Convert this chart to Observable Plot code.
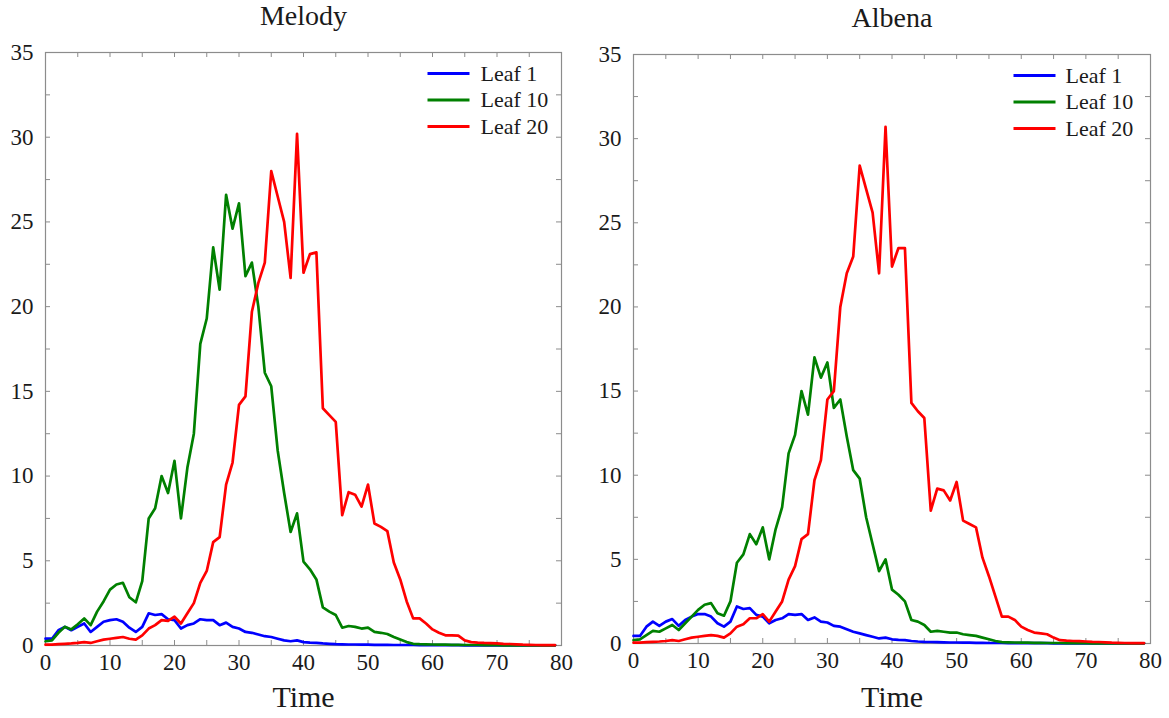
<!DOCTYPE html>
<html><head><meta charset="utf-8">
<script src="https://cdn.jsdelivr.net/npm/d3@7"></script>
<script src="https://cdn.jsdelivr.net/npm/@observablehq/plot@0.6"></script>
<style>
body{margin:0;background:#fff}
#wrap{display:flex;width:1169px;height:718px;overflow:hidden}
</style>
</head><body><div id="wrap"></div>
<script>
const time = [0,1,2,3,4,5,6,7,8,9,10,11,12,13,14,15,16,17,18,19,20,21,22,23,24,25,26,27,28,29,30,31,32,33,34,35,36,37,38,39,40,41,42,43,44,45,46,47,48,49,50,51,52,53,54,55,56,57,58,59,60,61,62,63,64,65,66,67,68,69,70,71,72,73,74,75,76,77,78,79];
const seriesNames = ["Leaf 1", "Leaf 10", "Leaf 20"];
const seriesColors = ["#0000ff", "#008000", "#ff0000"];
const xTicks = [0,10,20,30,40,50,60,70,80];
const yTicks = [0,5,10,15,20,25,30,35];
const xMinor = [5,10,15,20,25,30,35,40,45,50,55,60,65,70,75];
const yMinor = [2.5,5,7.5,10,12.5,15,17.5,20,22.5,25,27.5,30,32.5];

// Melody
const melodyLeaf1 = [0.4,0.4,0.9,1.1,0.9,1.1,1.3,0.8,1.1,1.4,1.5,1.55,1.4,1.05,0.8,1.1,1.9,1.8,1.85,1.55,1.5,1.0,1.2,1.3,1.55,1.5,1.5,1.2,1.35,1.1,1.0,0.8,0.75,0.65,0.55,0.5,0.4,0.3,0.25,0.3,0.2,0.17,0.15,0.12,0.1,0.08,0.07,0.06,0.06,0.05,0.05,0.04,0.04,0.04,0.03,0.03,0.03,0.03,0.02,0.02,0.02,0.02,0.02,0.02,0.02,0.01,0.01,0.01,0.01,0.01,0.01,0.01,0.01,0.01,0.01,0.01,0.01,0.01,0.01,0.01];
const melodyLeaf10 = [0.25,0.3,0.75,1.1,0.95,1.25,1.6,1.2,2.0,2.6,3.3,3.6,3.7,2.85,2.55,3.8,7.5,8.1,10.0,9.0,10.9,7.5,10.5,12.5,17.8,19.3,23.5,21.0,26.6,24.6,26.1,21.8,22.6,20.0,16.1,15.3,11.5,9.0,6.7,7.8,4.95,4.5,3.9,2.25,2.0,1.8,1.05,1.15,1.1,1.0,1.05,0.8,0.75,0.68,0.5,0.35,0.2,0.1,0.08,0.07,0.06,0.05,0.05,0.04,0.04,0.03,0.03,0.03,0.02,0.02,0.02,0.01,0.01,0.01,0.01,0.01,0.01,0.01,0.01,0.01];
const melodyLeaf20 = [0.05,0.05,0.08,0.1,0.12,0.15,0.2,0.15,0.25,0.35,0.4,0.45,0.5,0.4,0.35,0.6,1.0,1.2,1.5,1.45,1.7,1.3,1.9,2.5,3.7,4.4,6.1,6.4,9.5,10.8,14.2,14.7,19.7,21.4,22.6,28.0,26.5,25.0,21.7,30.2,22.0,23.1,23.2,14.0,13.6,13.2,7.7,9.05,8.9,8.2,9.5,7.2,7.0,6.75,4.9,3.9,2.6,1.6,1.6,1.3,0.95,0.75,0.6,0.6,0.58,0.3,0.2,0.17,0.15,0.14,0.12,0.1,0.09,0.07,0.05,0.04,0.03,0.02,0.02,0.02];

// Albena
const albenaLeaf1 = [0.45,0.45,1.0,1.3,1.05,1.3,1.45,1.05,1.4,1.6,1.75,1.75,1.6,1.2,1.0,1.3,2.2,2.05,2.1,1.7,1.6,1.2,1.4,1.5,1.75,1.7,1.75,1.4,1.55,1.3,1.25,1.05,1.0,0.85,0.7,0.6,0.5,0.4,0.3,0.35,0.25,0.22,0.2,0.15,0.12,0.1,0.09,0.08,0.07,0.06,0.06,0.05,0.05,0.04,0.04,0.03,0.03,0.03,0.02,0.02,0.02,0.02,0.02,0.02,0.02,0.01,0.01,0.01,0.01,0.01,0.01,0.01,0.01,0.01,0.01,0.01,0.01,0.01,0.01,0.01];
const albenaLeaf10 = [0.2,0.25,0.5,0.75,0.7,0.9,1.1,0.8,1.2,1.6,2.0,2.3,2.4,1.8,1.65,2.5,4.8,5.3,6.5,5.9,6.9,5.0,6.8,8.1,11.3,12.4,15.0,13.6,17.0,15.8,16.7,14.0,14.5,12.3,10.3,9.8,7.5,5.9,4.3,5.0,3.2,2.9,2.5,1.4,1.3,1.1,0.7,0.75,0.7,0.65,0.65,0.55,0.5,0.45,0.35,0.25,0.15,0.08,0.07,0.06,0.05,0.05,0.04,0.04,0.03,0.03,0.03,0.02,0.02,0.02,0.02,0.01,0.01,0.01,0.01,0.01,0.01,0.01,0.01,0.01];
const albenaLeaf20 = [0.05,0.05,0.08,0.1,0.12,0.15,0.2,0.15,0.25,0.35,0.4,0.45,0.5,0.45,0.35,0.6,1.0,1.15,1.5,1.5,1.75,1.3,1.9,2.5,3.8,4.6,6.2,6.5,9.7,10.9,14.5,15.0,20.0,22.0,23.0,28.4,27.0,25.6,22.0,30.7,22.4,23.5,23.5,14.3,13.8,13.4,7.9,9.2,9.1,8.5,9.6,7.3,7.1,6.9,5.1,4.0,2.8,1.6,1.6,1.4,1.0,0.8,0.65,0.6,0.55,0.35,0.2,0.17,0.15,0.14,0.12,0.1,0.09,0.07,0.05,0.04,0.03,0.02,0.02,0.02];

const FONT = "'Liberation Serif', 'Times New Roman', serif";
const GRAY = "#8c8c8c";
const INK = "#1a1a1a";

const lineSymbol = {draw(ctx) { ctx.moveTo(-21, 0); ctx.lineTo(21, 0); }};

function panel(title, values, m) {
  const rows = [];
  seriesNames.forEach((name, i) => values[i].forEach((v, j) => rows.push({t: time[j], v, s: name})));
  const H = 718, W = m.width;
  const ih = H - m.top - m.bottom, iw = W - m.left - m.right;
  return Plot.plot({
    width: W, height: H,
    marginLeft: m.left, marginRight: m.right, marginTop: m.top, marginBottom: m.bottom,
    x: {domain: [0, 80], ticks: xTicks, tickSize: 0, tickPadding: 8, label: null},
    y: {domain: [0, 35], ticks: yTicks, tickSize: 0, tickPadding: 12, label: null},
    color: {domain: seriesNames, range: seriesColors},
    style: {fontFamily: FONT, fontSize: "23px", color: INK, background: "white", overflow: "visible"},
    marks: [
      Plot.ruleX(xMinor, {x: d => d, insetTop: ih - 5, stroke: GRAY}),
      Plot.ruleX(xMinor, {x: d => d, insetBottom: ih - 5, stroke: GRAY}),
      Plot.ruleY(yMinor, {y: d => d, insetRight: iw - 5, stroke: GRAY}),
      Plot.ruleY(yMinor, {y: d => d, insetLeft: iw - 5, stroke: GRAY}),
      Plot.frame({stroke: GRAY, strokeWidth: 1.2}),
      Plot.line(rows, {x: "t", y: "v", stroke: "s", strokeWidth: 2.7, strokeLinejoin: "round"}),
      Plot.text([title], {frameAnchor: "top", lineAnchor: "middle", dy: m.titleDy, fontSize: 28, fill: INK}),
      Plot.text(["Time"], {frameAnchor: "bottom", lineAnchor: "middle", dy: m.timeDy, fontSize: 30, fill: INK}),
      ...seriesNames.map((name, i) => Plot.dot([name], {frameAnchor: "top-right", dx: m.legLine, dy: 21 + i * 26.5, symbol: lineSymbol, stroke: seriesColors[i], fill: "none", strokeWidth: 3})),
      ...seriesNames.map((name, i) => Plot.text([name], {frameAnchor: "top-right", lineAnchor: "middle", dx: m.legText, dy: 21 + i * 26.5, textAnchor: "start", fontSize: 22, fill: INK, text: d => d}))
    ]
  });
}

const wrap = document.getElementById("wrap");
wrap.append(panel("Melody", [melodyLeaf1, melodyLeaf10, melodyLeaf20], {width: 585, left: 45, right: 24, top: 52, bottom: 73, legLine: -113, legText: -81, titleDy: -36, timeDy: 52}));
wrap.append(panel("Albena", [albenaLeaf1, albenaLeaf10, albenaLeaf20], {width: 584, left: 48, right: 19, top: 54, bottom: 75, legLine: -116, legText: -85, titleDy: -36, timeDy: 54}));
</script>
</body></html>
